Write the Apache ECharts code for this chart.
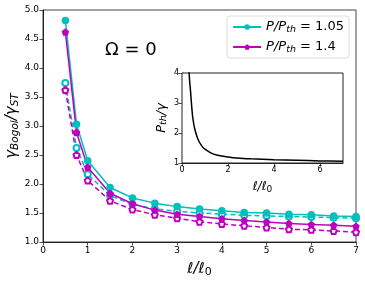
<!DOCTYPE html>
<html><head><meta charset="utf-8">
<script src="https://cdn.jsdelivr.net/npm/echarts@6/dist/echarts.min.js"></script>
<style>html,body{margin:0;padding:0;background:#fff}#c{width:365px;height:283px}</style>
</head><body><div id="c"></div>
<script>
const xVals = [0.5, 0.75, 1, 1.5, 2, 2.5, 3, 3.5, 4, 4.5, 5, 5.5, 6, 6.5, 7];
const cyanSolid = [4.82, 3.03, 2.40, 1.94, 1.76, 1.67, 1.61, 1.57, 1.54, 1.51, 1.50, 1.48, 1.47, 1.45, 1.44];
const cyanDashed = [3.74, 2.62, 2.17, 1.80, 1.65, 1.57, 1.53, 1.50, 1.48, 1.46, 1.45, 1.44, 1.43, 1.42, 1.41];
const magSolid = [4.62, 2.89, 2.29, 1.84, 1.66, 1.55, 1.48, 1.44, 1.40, 1.37, 1.345, 1.32, 1.30, 1.29, 1.27];
const magDashed = [3.62, 2.50, 2.06, 1.71, 1.56, 1.47, 1.41, 1.35, 1.31, 1.28, 1.25, 1.22, 1.21, 1.19, 1.17];
const insetX = [0.28, 0.33, 0.37, 0.42, 0.47, 0.55, 0.65, 0.75, 0.9, 1.0, 1.25, 1.5, 2.0, 2.5, 3.0, 4.0, 5.0, 6.0, 7.0];
const insetY = [4.4, 3.75, 3.4, 2.9, 2.5, 2.15, 1.88, 1.70, 1.53, 1.46, 1.34, 1.27, 1.20, 1.16, 1.14, 1.11, 1.09, 1.07, 1.06];
const mainXTicks = [0, 7, 1];
const mainYTicks = [1.0, 5.0, 0.5];
const insetYTicks = [1, 4, 1];
const insetXTicks = [0, 7, 2];
const legendNames = ['P/P_th = 1.05', 'P/P_th = 1.4'];

const CY = '#00bfbf', MG = '#bf00bf';
const pent = 'path://M0,-1 L0.951,-0.309 L0.588,0.809 L-0.588,0.809 L-0.951,-0.309 Z';
const zip = (xs, ys) => xs.map((x, i) => [x, ys[i]]);
const F = 'DejaVu Sans';
const axLine = {lineStyle: {color: '#222', width: 1}};
const tick = {inside: false, length: 3.5, lineStyle: {color: '#222', width: 0.8}};

const chart = echarts.init(document.getElementById('c'), null, {renderer: 'canvas'});
chart.setOption({
  animation: false,
  backgroundColor: '#fff',
  grid: [
    {left: 43, right: 9, top: 10, bottom: 41, show: true, borderColor: '#444', borderWidth: 1, backgroundColor: 'transparent', containLabel: false, outerBoundsMode: 'none'},
    {left: 182, right: 22, top: 73, bottom: 120, show: true, borderColor: '#222', borderWidth: 1, backgroundColor: '#fff', z: 10, containLabel: false, outerBoundsMode: 'none'}
  ],
  legend: {
    right: 16, top: 16, orient: 'vertical', itemGap: 5, itemWidth: 28, itemHeight: 7,
    borderColor: '#ddd', borderWidth: 1, borderRadius: 3, padding: [4, 5, 3, 5],
    backgroundColor: 'rgba(255,255,255,0.8)',
    data: [legendNames[0], legendNames[1]],
    formatter: n => n === legendNames[0] ? '{i|P/P}{s|th}{n| = 1.05}' : '{i|P/P}{s|th}{n| = 1.4}',
    textStyle: {
      fontFamily: F, fontSize: 13, color: '#000',
      rich: {
        i: {fontFamily: F, fontStyle: 'italic', fontSize: 13, lineHeight: 16, verticalAlign: 'middle'},
        s: {fontFamily: F, fontStyle: 'italic', fontSize: 9.5, lineHeight: 16, verticalAlign: 'bottom', padding: [5, 0, 0, 0]},
        n: {fontFamily: F, fontSize: 13, lineHeight: 16, verticalAlign: 'middle'}
      }
    }
  },
  xAxis: [
    {gridIndex: 0, type: 'value', min: mainXTicks[0], max: mainXTicks[1], interval: mainXTicks[2],
     axisLine: axLine, axisTick: tick, splitLine: {show: false},
     axisLabel: {fontFamily: F, fontSize: 9, color: '#000', margin: 4},
     name: '{i|ℓ/ℓ}{s|0}', nameLocation: 'middle', nameGap: 18,
     nameTextStyle: {rich: {
       i: {fontFamily: F, fontStyle: 'italic', fontSize: 15, lineHeight: 18, verticalAlign: 'middle', color: '#000'},
       s: {fontFamily: F, fontSize: 11, lineHeight: 18, verticalAlign: 'bottom', padding: [6, 0, 0, 0], color: '#000'}
     }}},
    {gridIndex: 1, type: 'value', min: insetXTicks[0], max: insetXTicks[1], interval: insetXTicks[2],
     axisLine: axLine, axisTick: tick, splitLine: {show: false},
     axisLabel: {fontFamily: F, fontSize: 8, color: '#000', margin: 3, showMaxLabel: false},
     name: '{i|ℓ/ℓ}{s|0}', nameLocation: 'middle', nameGap: 17,
     nameTextStyle: {rich: {
       i: {fontFamily: F, fontStyle: 'italic', fontSize: 12, lineHeight: 14, verticalAlign: 'middle', color: '#000'},
       s: {fontFamily: F, fontSize: 9, lineHeight: 14, verticalAlign: 'bottom', padding: [4, 0, 0, 0], color: '#000'}
     }}}
  ],
  yAxis: [
    {gridIndex: 0, type: 'value', min: mainYTicks[0], max: mainYTicks[1], interval: mainYTicks[2],
     axisLine: axLine, axisTick: tick, splitLine: {show: false},
     axisLabel: {fontFamily: F, fontSize: 9, color: '#000', margin: 4, formatter: v => v.toFixed(1)},
     name: '{g|γ}{s|Bogol}{g|/γ}{s|ST}', nameLocation: 'middle', nameRotate: 90, nameGap: 22, nameMoveOverlap: false,
     nameTextStyle: {rich: {
       g: {fontFamily: F, fontStyle: 'italic', fontSize: 15, lineHeight: 18, verticalAlign: 'middle', color: '#000'},
       s: {fontFamily: F, fontStyle: 'italic', fontSize: 10.5, lineHeight: 18, verticalAlign: 'bottom', padding: [5, 0, 0, 0], color: '#000'}
     }}},
    {gridIndex: 1, type: 'value', min: insetYTicks[0], max: insetYTicks[1], interval: insetYTicks[2],
     axisLine: axLine, axisTick: tick, splitLine: {show: false},
     axisLabel: {fontFamily: F, fontSize: 8, color: '#000', margin: 3},
     name: '{i|P}{s|th}{i|/γ}', nameLocation: 'middle', nameRotate: 90, nameGap: 13,
     nameTextStyle: {rich: {
       i: {fontFamily: F, fontStyle: 'italic', fontSize: 13, lineHeight: 15, verticalAlign: 'middle', color: '#000'},
       s: {fontFamily: F, fontStyle: 'italic', fontSize: 9.5, lineHeight: 15, verticalAlign: 'bottom', padding: [5, 0, 0, 0], color: '#000'}
     }}}
  ],
  graphic: [
    {type: 'text', left: 105, top: 41, style: {text: 'Ω = 0', fontFamily: F, fontSize: 18, fill: '#000'}}
  ],
  series: [
    {name: legendNames[0], type: 'line', xAxisIndex: 0, yAxisIndex: 0, data: zip(xVals, cyanSolid),
     symbol: 'circle', symbolSize: 7.5, itemStyle: {color: CY}, lineStyle: {color: CY, width: 1.5}, z: 4},
    {name: legendNames[1], type: 'line', xAxisIndex: 0, yAxisIndex: 0, data: zip(xVals, magSolid),
     symbol: pent, symbolSize: 7.5, itemStyle: {color: MG}, lineStyle: {color: MG, width: 1.5}, z: 4},
    {name: 'cd', type: 'line', xAxisIndex: 0, yAxisIndex: 0, data: zip(xVals, cyanDashed),
     symbol: 'emptyCircle', symbolSize: 6, itemStyle: {color: CY, borderWidth: 1.2}, lineStyle: {color: CY, width: 1.5, type: [5, 3]}, z: 3},
    {name: 'md', type: 'line', xAxisIndex: 0, yAxisIndex: 0, data: zip(xVals, magDashed),
     symbol: 'empty' + pent, symbolSize: 6, itemStyle: {color: MG, borderWidth: 1.2}, lineStyle: {color: MG, width: 1.5, type: [5, 3]}, z: 3},
    {name: 'inset', type: 'line', xAxisIndex: 1, yAxisIndex: 1, data: zip(insetX, insetY),
     symbol: 'none', smooth: 0.3, clip: true, lineStyle: {color: '#000', width: 1.5}, z: 12}
  ]
});
</script></body></html>
